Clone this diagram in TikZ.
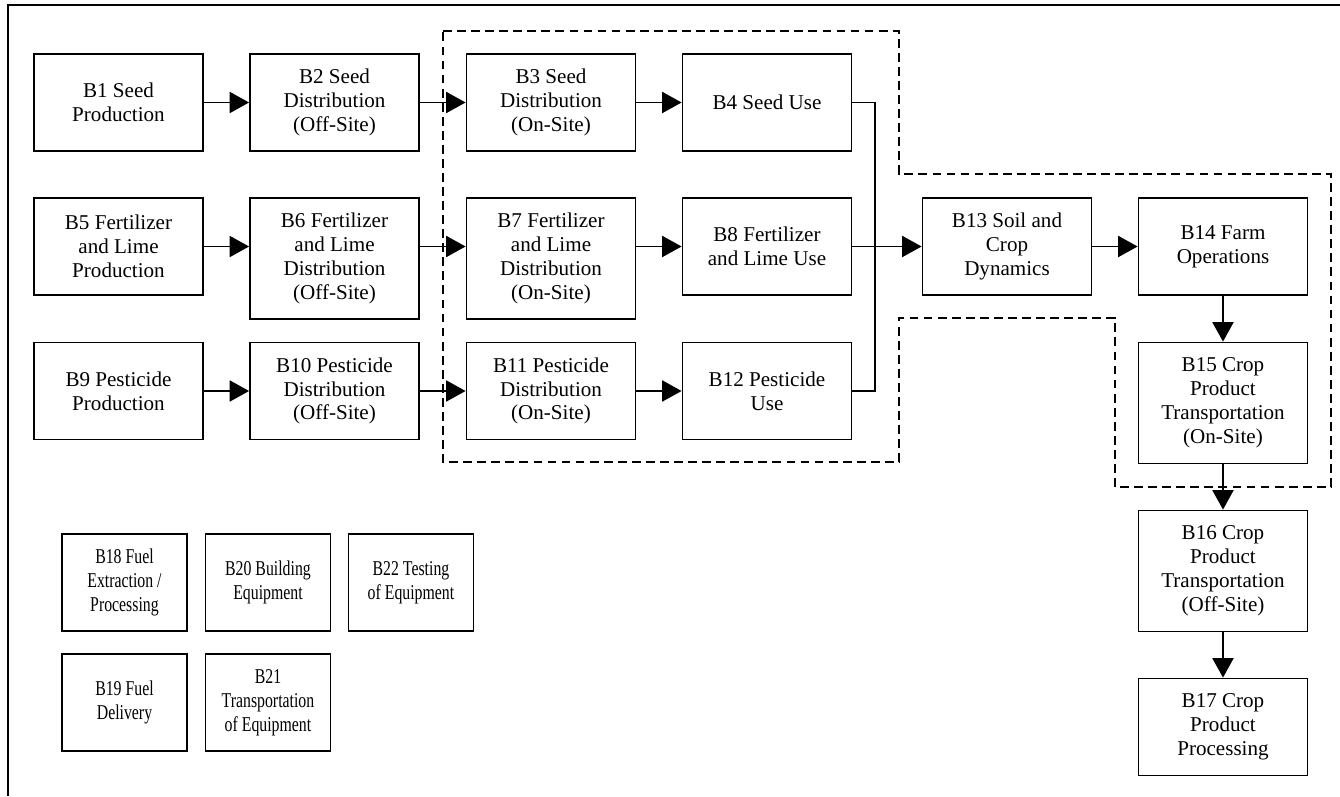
\documentclass[tikz,border=0pt]{standalone}
\usepackage{fontspec}
\setmainfont{Liberation Serif}
\newfontfamily\condensedfont[FakeStretch=0.75]{Liberation Serif}
\usetikzlibrary{arrows.meta}
\begin{document}
\begin{tikzpicture}[x=0.02cm,y=-0.02cm,
 box/.style={draw, line width=1.1pt, align=center, inner sep=1pt, font=\fontsize{12pt}{13.6pt}\selectfont},
 wide/.style={box, minimum width=3.38cm, minimum height=1.94cm},
 tall/.style={box, minimum width=3.38cm, minimum height=2.42cm},
 small/.style={box, minimum width=2.5cm, minimum height=1.94cm, font=\condensedfont\fontsize{12pt}{13.6pt}\selectfont},
 conn/.style={line width=0.8pt},
 arr/.style={conn, -{Triangle[length=11pt,width=12pt]}},
 region/.style={line width=1.1pt, dash pattern=on 5pt off 3pt},
 frame/.style={line width=1.1pt}
]
\useasboundingbox (0,0) rectangle (1340,796);
\draw[frame] (8,796) -- (8,5) -- (1340,5);
\draw[region] (443,31) -- (899,31) -- (899,174) -- (1331,174) -- (1331,487) -- (1115,487) -- (1115,318) -- (899,318) -- (899,462) -- (443,462) -- cycle;

\node[wide] (B1) at (118.5,102.5) {B1 Seed\\Production};
\node[wide] (B2) at (334.5,102.5) {B2 Seed\\Distribution\\(Off-Site)};
\node[wide] (B3) at (551,102.5) {B3 Seed\\Distribution\\(On-Site)};
\node[wide] (B4) at (767,102.5) {B4 Seed Use};
\node[wide] (B5) at (118.5,246.5) {B5 Fertilizer\\and Lime\\Production};
\node[tall] (B6) at (334.5,258.5) {B6 Fertilizer\\and Lime\\Distribution\\(Off-Site)};
\node[tall] (B7) at (551,258.5) {B7 Fertilizer\\and Lime\\Distribution\\(On-Site)};
\node[wide] (B8) at (767,246.5) {B8 Fertilizer\\and Lime Use};
\node[wide] (B9) at (118.5,391) {B9 Pesticide\\Production};
\node[wide] (B10) at (334.5,391) {B10 Pesticide\\Distribution\\(Off-Site)};
\node[wide] (B11) at (551,391) {B11 Pesticide\\Distribution\\(On-Site)};
\node[wide] (B12) at (767,391) {B12 Pesticide\\Use};
\node[wide] (B13) at (1007,246.5) {B13 Soil and\\Crop\\Dynamics};
\node[wide] (B14) at (1223,246.5) {B14 Farm\\Operations};
\node[tall] (B15) at (1223,403) {B15 Crop\\Product\\Transportation\\(On-Site)};
\node[tall] (B16) at (1223,571) {B16 Crop\\Product\\Transportation\\(Off-Site)};
\node[wide] (B17) at (1223,727) {B17 Crop\\Product\\Processing};
\node[small] (B18) at (124.5,582.5) {B18 Fuel\\Extraction /\\Processing};
\node[small] (B20) at (268,582.5) {B20 Building\\Equipment};
\node[small] (B22) at (411,582.5) {B22 Testing\\of Equipment};
\node[small] (B19) at (124.5,702.5) {B19 Fuel\\Delivery};
\node[small] (B21) at (268,702.5) {B21\\Transportation\\of Equipment};

\coordinate (jx) at (875,0);
\draw[arr] (B1.east) -- (B2.west);
\draw[arr] (B2.east) -- (B3.west);
\draw[arr] (B3.east) -- (B4.west);
\draw[arr] (B5.east) -- (B6.west |- B5.east);
\draw[arr] (B6.east |- B5.east) -- (B7.west |- B5.east);
\draw[arr] (B7.east |- B8.west) -- (B8.west);
\draw[arr] (B9.east) -- (B10.west);
\draw[arr] (B10.east) -- (B11.west);
\draw[arr] (B11.east) -- (B12.west);
\draw[conn] (B4.east) -- (B4.east -| jx) -- (B12.east -| jx) -- (B12.east);
\draw[arr] (B8.east) -- (B13.west);
\draw[arr] (B13.east) -- (B14.west);
\draw[arr] (B14) -- (B15);
\draw[arr] (B15) -- (B16);
\draw[arr] (B16) -- (B17);
\end{tikzpicture}
\end{document}
